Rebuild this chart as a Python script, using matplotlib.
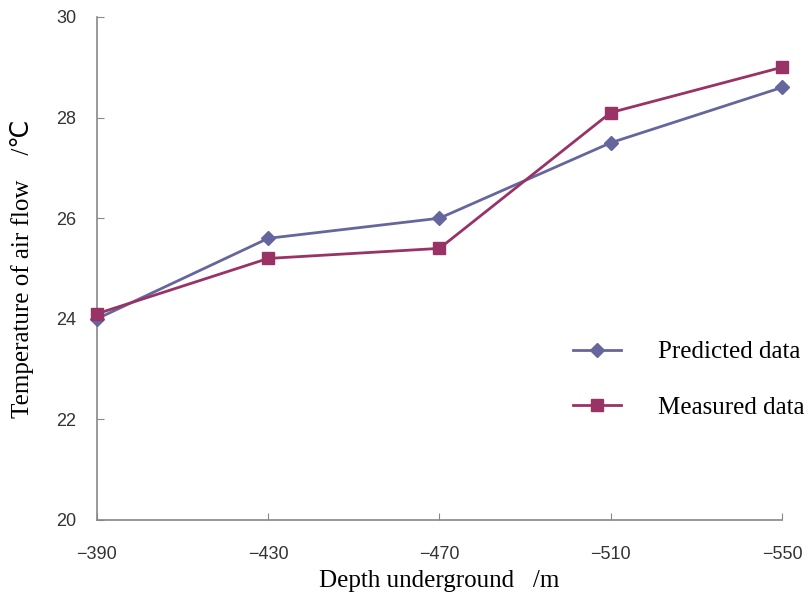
import matplotlib
matplotlib.use("Agg")
import matplotlib.pyplot as plt

depth_labels = ["\u2212390", "\u2212430", "\u2212470", "\u2212510", "\u2212550"]
predicted = [24.0, 25.6, 26.0, 27.5, 28.6]
measured = [24.1, 25.2, 25.4, 28.1, 29.0]
yticks = [20, 22, 24, 26, 28, 30]

fig = plt.figure(figsize=(8.12, 5.96), dpi=100)
ax = fig.add_axes([97/812, 76/596, 685/812, 503/596])

x = list(range(len(depth_labels)))
ax.plot(x, predicted, color="#66669E", marker="D", markersize=7, lw=2, label="Predicted data", clip_on=False, zorder=3)
ax.plot(x, measured, color="#993366", marker="s", markersize=9, lw=2, label="Measured data", clip_on=False, zorder=4)

ax.set_xlim(0, 4)
ax.set_ylim(20, 30)
ax.set_xticks(x)
ax.set_xticklabels(depth_labels)
ax.set_yticks(yticks)
for s in ["top", "right"]:
    ax.spines[s].set_visible(False)
for s in ["left", "bottom"]:
    ax.spines[s].set_color("#888888")
    ax.spines[s].set_linewidth(1.2)
ax.tick_params(direction="in", length=5, color="#888888", labelsize=13, labelcolor="#333333")
for lab in ax.get_xticklabels() + ax.get_yticklabels():
    lab.set_family(["Liberation Sans", "DejaVu Sans"])
ax.tick_params(axis="x", pad=19)
ax.tick_params(axis="y", pad=15)

serif = ["Liberation Serif", "DejaVu Serif"]
ax.set_xlabel("Depth underground   /m", family=serif, fontsize=18, labelpad=5)
ax.set_ylabel("Temperature of air flow    /\u2103", family=["Liberation Serif", "DejaVu Sans"], fontsize=18, labelpad=16)

leg = ax.legend(loc="upper left", bbox_to_anchor=(573/812, (596-341)/596), bbox_transform=fig.transFigure,
                frameon=False, prop={"family": serif, "size": 18}, handlelength=1.9,
                labelspacing=1.3, handletextpad=1.5, borderaxespad=0, borderpad=0)

fig.savefig("out.png", dpi=100)
